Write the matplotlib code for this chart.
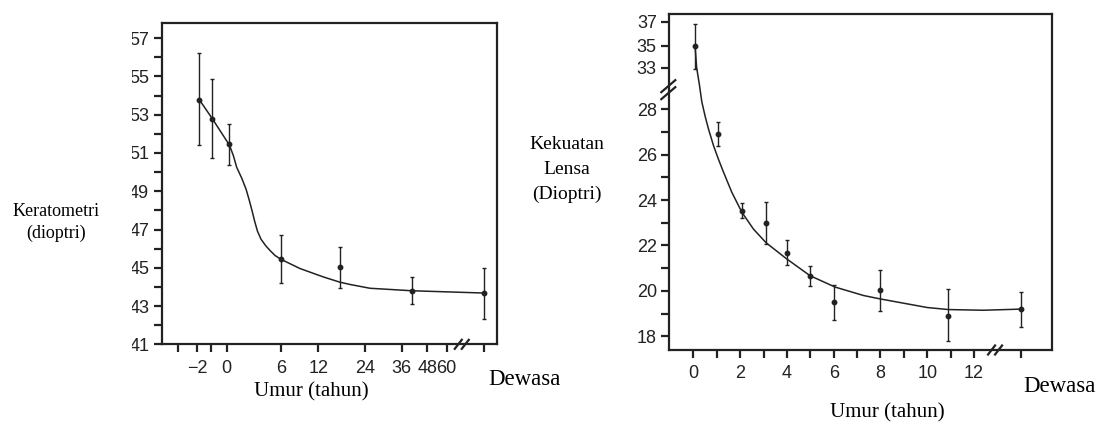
import numpy as np
import matplotlib
matplotlib.use("Agg")
import matplotlib.pyplot as plt
from matplotlib.patches import Rectangle
from matplotlib.transforms import blended_transform_factory

# ---------------- data: left panel (Keratometri) ----------------
kera_age = [-1.85, -0.9, 0.3, 6.0, 17.5, 40.7, "Dewasa"]
kera_val = [53.78, 52.79, 51.45, 45.44, 45.02, 43.80, 43.68]
kera_lo = [51.41, 50.76, 50.38, 44.23, 43.95, 43.09, 42.31]
kera_hi = [56.20, 54.88, 52.50, 46.71, 46.07, 44.52, 45.00]
kera_curve_age = [-1.85, -0.9, 0.3, 0.74, 1.10, 1.66, 2.14, 2.50, 2.83, 3.09, 3.39,
                  3.79, 4.31, 4.79, 5.34, 6.0, 9.05, 13.3, 17.5, 20.1, 25.6, 40.7,
                  "Dewasa"]
kera_curve_val = [53.78, 52.79, 51.41, 50.85, 50.25, 49.68, 49.10, 48.51, 47.92,
                  47.42, 46.92, 46.49, 46.15, 45.90, 45.64, 45.44, 44.96, 44.52,
                  44.25, 44.13, 43.93, 43.80, 43.68]
kera_xticks = [-3, -2, -1, 0, 6, 12, 24, 36, 48, 60, "Dewasa"]
kera_xticklabels = ["", "\u22122", "", "0", "6", "12", "24", "36", "48", "60", ""]
kera_yticks = [57, 55, 53, 51, 49, 47, 45, 43, 41]

# ---------------- data: right panel (Kekuatan Lensa) ----------------
lens_age = [0.07, 1.07, 2.1, 3.1, 4.0, 5.0, 6.0, 8.0, 10.9, "Dewasa"]
lens_val = [35.0, 26.91, 23.54, 22.99, 21.66, 20.67, 19.50, 20.05, 18.90, 19.20]
lens_lo = [32.9, 26.39, 23.21, 22.07, 21.12, 20.22, 18.72, 19.12, 17.67, 18.40]
lens_hi = [36.8, 27.44, 23.87, 23.90, 22.24, 21.10, 20.25, 20.92, 20.07, 19.95]
lens_curve_age = [0.07, 0.14, 0.26, 0.36, 0.50, 0.64, 0.86, 1.07, 1.28, 1.64, 2.07,
                  2.57, 3.11, 3.99, 4.99, 6.06, 7.27, 7.98, 10.0, 10.9, 12.4,
                  "Dewasa"]
lens_curve_val = [35.0, 33.0, 31.5, 28.33, 27.70, 27.15, 26.40, 25.80, 25.25, 24.35,
                  23.47, 22.72, 22.12, 21.41, 20.67, 20.17, 19.80, 19.65, 19.27,
                  19.18, 19.15, 19.20]
lens_xticks = list(range(0, 13)) + ["Dewasa"]
lens_xticklabels = [str(v) if v % 2 == 0 else "" for v in range(0, 13)] + [""]
lens_yticks = [18, 20, 22, 24, 26, 28, 33, 35, 37]

# ---------------- layout constants ----------------
KERA_ADULT = 90.0   # axis position used for the "Dewasa" column (left)
LENS_ADULT = 14.0   # axis position used for the "Dewasa" column (right)
INK = "#222222"


def xpos(vals, adult):
    return [adult if v == "Dewasa" else v for v in vals]


# left x axis: non-linear (compressed) age scale, mapped through knots
kx_knots = np.array([-4, -3, -2, -1, 0, 6, 12, 24, 36, 48, 60, 90, 100], float)
kx_pos = np.array([120, 175, 232, 272, 320, 483, 595, 735, 845, 922, 980, 1093, 1150], float)


def kx_fwd(x):
    return np.interp(x, kx_knots, kx_pos)


def kx_inv(p):
    return np.interp(p, kx_pos, kx_knots)


# right y axis: broken scale (gap between ~28.6 and 31)
ly_knots = np.array([15, 18, 28, 28.6, 31, 33, 35, 37, 40], float)
ly_pos = -np.array([1123.5, 990, 322, 282, 268, 200, 135, 65, -36], float)


def ly_fwd(v):
    return np.interp(v, ly_knots, ly_pos)


def ly_inv(p):
    return np.interp(p, ly_pos, ly_knots)


plt.rcParams["font.family"] = ["Liberation Sans", "DejaVu Sans"]
fig = plt.figure(figsize=(11.07, 4.23), dpi=100)
fig.patch.set_facecolor("white")

axL = fig.add_axes([0.1461, 0.186, 0.3026, 0.759])
axR = fig.add_axes([0.6046, 0.1726, 0.3454, 0.7943])

serif = ["Liberation Serif", "DejaVu Serif"]

for ax in (axL, axR):
    for s in ax.spines.values():
        s.set_linewidth(1.6)
        s.set_color(INK)
    ax.tick_params(which="both", direction="out", length=6, width=1.6,
                   color=INK, labelsize=13, labelcolor=INK)
    ax.tick_params(axis="x", pad=5)
    ax.tick_params(axis="y", pad=3)

# ---------- left panel ----------
axL.set_xscale("function", functions=(kx_fwd, kx_inv))
kx = xpos(kera_age, KERA_ADULT)
yerr = [np.array(kera_val) - np.array(kera_lo), np.array(kera_hi) - np.array(kera_val)]
axL.errorbar(kx, kera_val, yerr=yerr, fmt="o", ms=3.2, color=INK, ecolor=INK,
             elinewidth=1.0, capsize=1.6, capthick=1.0, zorder=3)
axL.plot(xpos(kera_curve_age, KERA_ADULT), kera_curve_val, color=INK, lw=1.1,
         solid_joinstyle="round", zorder=2)
axL.set_xlim(-3.91, 96.5)
axL.set_ylim(41, 57.78)
axL.set_xticks(xpos(kera_xticks, KERA_ADULT))
axL.set_xticklabels(kera_xticklabels)
axL.set_yticks(kera_yticks)
axL.set_yticks(list(range(42, 57, 2)), minor=True)
axL.set_yticklabels([str(v) for v in kera_yticks])
axL.xaxis.set_minor_locator(matplotlib.ticker.NullLocator())

# ---------- right panel ----------
axR.set_yscale("function", functions=(ly_fwd, ly_inv))
rx = xpos(lens_age, LENS_ADULT)
yerrR = [np.array(lens_val) - np.array(lens_lo), np.array(lens_hi) - np.array(lens_val)]
axR.errorbar(rx, lens_val, yerr=yerrR, fmt="o", ms=3.2, color=INK, ecolor=INK,
             elinewidth=1.0, capsize=1.6, capthick=1.0, zorder=3)
axR.plot(xpos(lens_curve_age, LENS_ADULT), lens_curve_val, color=INK, lw=1.1,
         solid_joinstyle="round", zorder=2)
axR.set_xlim(-1.03, 15.32)
axR.set_ylim(17.1, 37.68)
axR.set_xticks(xpos(lens_xticks, LENS_ADULT))
axR.set_xticklabels(lens_xticklabels)
axR.set_yticks(lens_yticks)
axR.set_yticklabels([str(v) for v in lens_yticks])
axR.set_yticks([19, 21, 23, 25, 27], minor=True)
axR.xaxis.set_minor_locator(matplotlib.ticker.NullLocator())


# break marks ("//")
def xbreak(ax, xval):
    tr = blended_transform_factory(ax.transData, ax.transAxes)
    disp = tr.transform([(xval, 0)])[0]
    for dx in (-3.5, 3.5):
        x0, y0 = disp[0] + dx - 3.5, disp[1] - 4.5
        x1, y1 = disp[0] + dx + 3.5, disp[1] + 4.5
        fig.add_artist(plt.Line2D([x0, x1], [y0, y1], transform=None,
                                  color=INK, lw=1.6, zorder=10))


def ybreak(ax, yval):
    tr = blended_transform_factory(ax.transAxes, ax.transData)
    disp = tr.transform([(0, yval)])[0]
    for dy in (-3.5, 3.5):
        x0, y0 = disp[0] - 8, disp[1] + dy - 6
        x1, y1 = disp[0] + 6, disp[1] + dy + 6
        fig.add_artist(plt.Line2D([x0, x1], [y0, y1], transform=None,
                                  color=INK, lw=1.6, zorder=10))


xbreak(axL, 72)
xbreak(axR, 12.9)
ybreak(axR, 31.1)

# the reference crops the left edge of the left y tick labels
fig.add_artist(Rectangle((112, 423 - 352), 20, 335, transform=None,
                         facecolor="white", edgecolor="none", zorder=20))

# text labels
fig.text(56 / 1107, 1 - 211 / 423, "Keratometri", ha="center", va="center",
         fontsize=13, family=serif)
fig.text(56 / 1107, 1 - 233 / 423, "(dioptri)", ha="center", va="center",
         fontsize=13, family=serif)
fig.text(311 / 1107, 1 - 392 / 423, "Umur (tahun)", ha="center", va="center",
         fontsize=15, family=serif)
fig.text(488 / 1107, 1 - 379 / 423, "Dewasa", ha="left", va="center",
         fontsize=16.5, family=serif)

fig.text(567 / 1107, 1 - 144 / 423, "Kekuatan", ha="center", va="center",
         fontsize=14, family=serif)
fig.text(567 / 1107, 1 - 169 / 423, "Lensa", ha="center", va="center",
         fontsize=14, family=serif)
fig.text(567 / 1107, 1 - 194 / 423, "(Dioptri)", ha="center", va="center",
         fontsize=14, family=serif)
fig.text(887 / 1107, 1 - 413 / 423, "Umur (tahun)", ha="center", va="center",
         fontsize=15, family=serif)
fig.text(1023 / 1107, 1 - 386 / 423, "Dewasa", ha="left", va="center",
         fontsize=16.5, family=serif)

fig.savefig("out.png", dpi=100, facecolor="white")
